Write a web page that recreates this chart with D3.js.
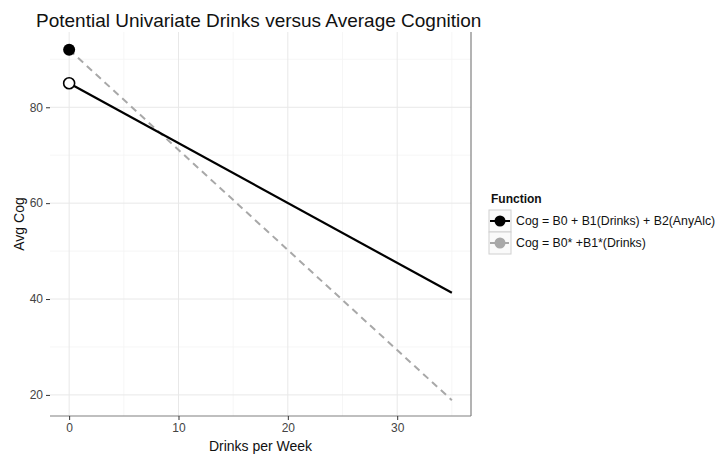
<!DOCTYPE html>
<html>
<head>
<meta charset="utf-8">
<script src="https://cdn.jsdelivr.net/npm/d3@7"></script>
<style>
  html, body { margin: 0; padding: 0; background: #fff; }
  svg { display: block; font-family: "Liberation Sans", Arial, sans-serif; }
</style>
</head>
<body>
<svg id="chart" width="718" height="455"></svg>
<script>
// Predicted average cognition across weekly drinks for two model forms
const drinks = [0, 35];
const fullModel = [85, 41.3];        // Cog = B0 + B1(Drinks) + B2(AnyAlc)
const univariateModel = [92, 18.9];  // Cog = B0* + B1*(Drinks)
const seriesLabels = ["Cog = B0 + B1(Drinks) + B2(AnyAlc)", "Cog = B0* +B1*(Drinks)"];
const xTicks = [0, 10, 20, 30];
const yTicks = [20, 40, 60, 80];
const xMinor = [5, 15, 25, 35];
const yMinor = [30, 50, 70, 90];

const svg = d3.select("#chart");
const panel = { left: 50, right: 471, top: 32, bottom: 416 };

const x = d3.scaleLinear().domain([-1.75, 36.75]).range([panel.left, panel.right]);
const y = d3.scaleLinear().domain([15.6, 95.7]).range([panel.bottom, panel.top]);

// grid
const grid = svg.append("g");
grid.selectAll(".vminor").data(xMinor).join("line")
  .attr("x1", d => x(d)).attr("x2", d => x(d))
  .attr("y1", panel.top).attr("y2", panel.bottom)
  .attr("stroke", "#f4f4f4").attr("stroke-width", 0.8);
grid.selectAll(".hminor").data(yMinor).join("line")
  .attr("y1", d => y(d)).attr("y2", d => y(d))
  .attr("x1", panel.left).attr("x2", panel.right)
  .attr("stroke", "#f4f4f4").attr("stroke-width", 0.8);
grid.selectAll(".vmajor").data(xTicks).join("line")
  .attr("x1", d => x(d)).attr("x2", d => x(d))
  .attr("y1", panel.top).attr("y2", panel.bottom)
  .attr("stroke", "#e8e8e8").attr("stroke-width", 1);
grid.selectAll(".hmajor").data(yTicks).join("line")
  .attr("y1", d => y(d)).attr("y2", d => y(d))
  .attr("x1", panel.left).attr("x2", panel.right)
  .attr("stroke", "#e8e8e8").attr("stroke-width", 1);

// panel border (bottom and right)
svg.append("line").attr("x1", panel.left).attr("x2", panel.right)
  .attr("y1", panel.bottom).attr("y2", panel.bottom)
  .attr("stroke", "#808080").attr("stroke-width", 1.2);
svg.append("line").attr("x1", panel.right).attr("x2", panel.right)
  .attr("y1", panel.top).attr("y2", panel.bottom)
  .attr("stroke", "#808080").attr("stroke-width", 1.2);

// axes
const xAxis = svg.append("g").attr("transform", `translate(0,${panel.bottom})`)
  .call(d3.axisBottom(x).tickValues(xTicks).tickSize(4).tickPadding(3));
const yAxis = svg.append("g").attr("transform", `translate(${panel.left},0)`)
  .call(d3.axisLeft(y).tickValues(yTicks).tickSize(4).tickPadding(3));
[xAxis, yAxis].forEach(a => {
  a.select(".domain").remove();
  a.selectAll(".tick line").attr("stroke", "#333").attr("stroke-width", 1);
  a.selectAll(".tick text").attr("fill", "#444").style("font-size", "12px")
    .style("font-family", "'Liberation Sans', Arial, sans-serif");
});

// model lines
const line = d3.line().x(d => x(d[0])).y(d => y(d[1]));
svg.append("path").datum(drinks.map((d, i) => [d, univariateModel[i]]))
  .attr("d", line).attr("fill", "none")
  .attr("stroke", "#a8a8a8").attr("stroke-width", 2).attr("stroke-dasharray", "7,5");
svg.append("path").datum(drinks.map((d, i) => [d, fullModel[i]]))
  .attr("d", line).attr("fill", "none")
  .attr("stroke", "#000").attr("stroke-width", 2.2);

// intercept points
svg.append("circle").attr("cx", x(drinks[0])).attr("cy", y(univariateModel[0]))
  .attr("r", 6).attr("fill", "#000");
svg.append("circle").attr("cx", x(drinks[0])).attr("cy", y(fullModel[0]))
  .attr("r", 5.5).attr("fill", "#fff").attr("stroke", "#000").attr("stroke-width", 1.6);

// title and axis labels
svg.append("text").attr("x", 36).attr("y", 27)
  .style("font-size", "19px").attr("fill", "#111")
  .text("Potential Univariate Drinks versus Average Cognition");
svg.append("text").attr("x", x(17.5)).attr("y", 451).attr("text-anchor", "middle")
  .style("font-size", "14px").attr("fill", "#111").text("Drinks per Week");
svg.append("text").attr("transform", `translate(24,${(panel.top + panel.bottom) / 2}) rotate(-90)`)
  .attr("text-anchor", "middle").style("font-size", "14px").attr("fill", "#111").text("Avg Cog");

// legend
const legend = svg.append("g").attr("transform", "translate(489,0)");
legend.append("text").attr("x", 2).attr("y", 203)
  .style("font-size", "12px").style("font-weight", "bold").attr("fill", "#111").text("Function");
const keyColors = ["#000", "#a8a8a8"];
const keyDash = [null, "7,5"];
seriesLabels.forEach((label, i) => {
  const top = 210 + i * 22;
  const k = legend.append("g");
  k.append("rect").attr("x", 0).attr("y", top).attr("width", 22).attr("height", 22)
    .attr("fill", "#fafafa").attr("stroke", "#d0d0d0").attr("stroke-width", 1);
  k.append("line").attr("x1", 1).attr("x2", 21).attr("y1", top + 11).attr("y2", top + 11)
    .attr("stroke", keyColors[i]).attr("stroke-width", 2).attr("stroke-dasharray", keyDash[i]);
  k.append("circle").attr("cx", 11).attr("cy", top + 11).attr("r", 5.5).attr("fill", keyColors[i]);
  k.append("text").attr("x", 27).attr("y", top + 15)
    .style("font-size", "12.3px").attr("fill", "#111").text(label);
});
</script>
</body>
</html>
